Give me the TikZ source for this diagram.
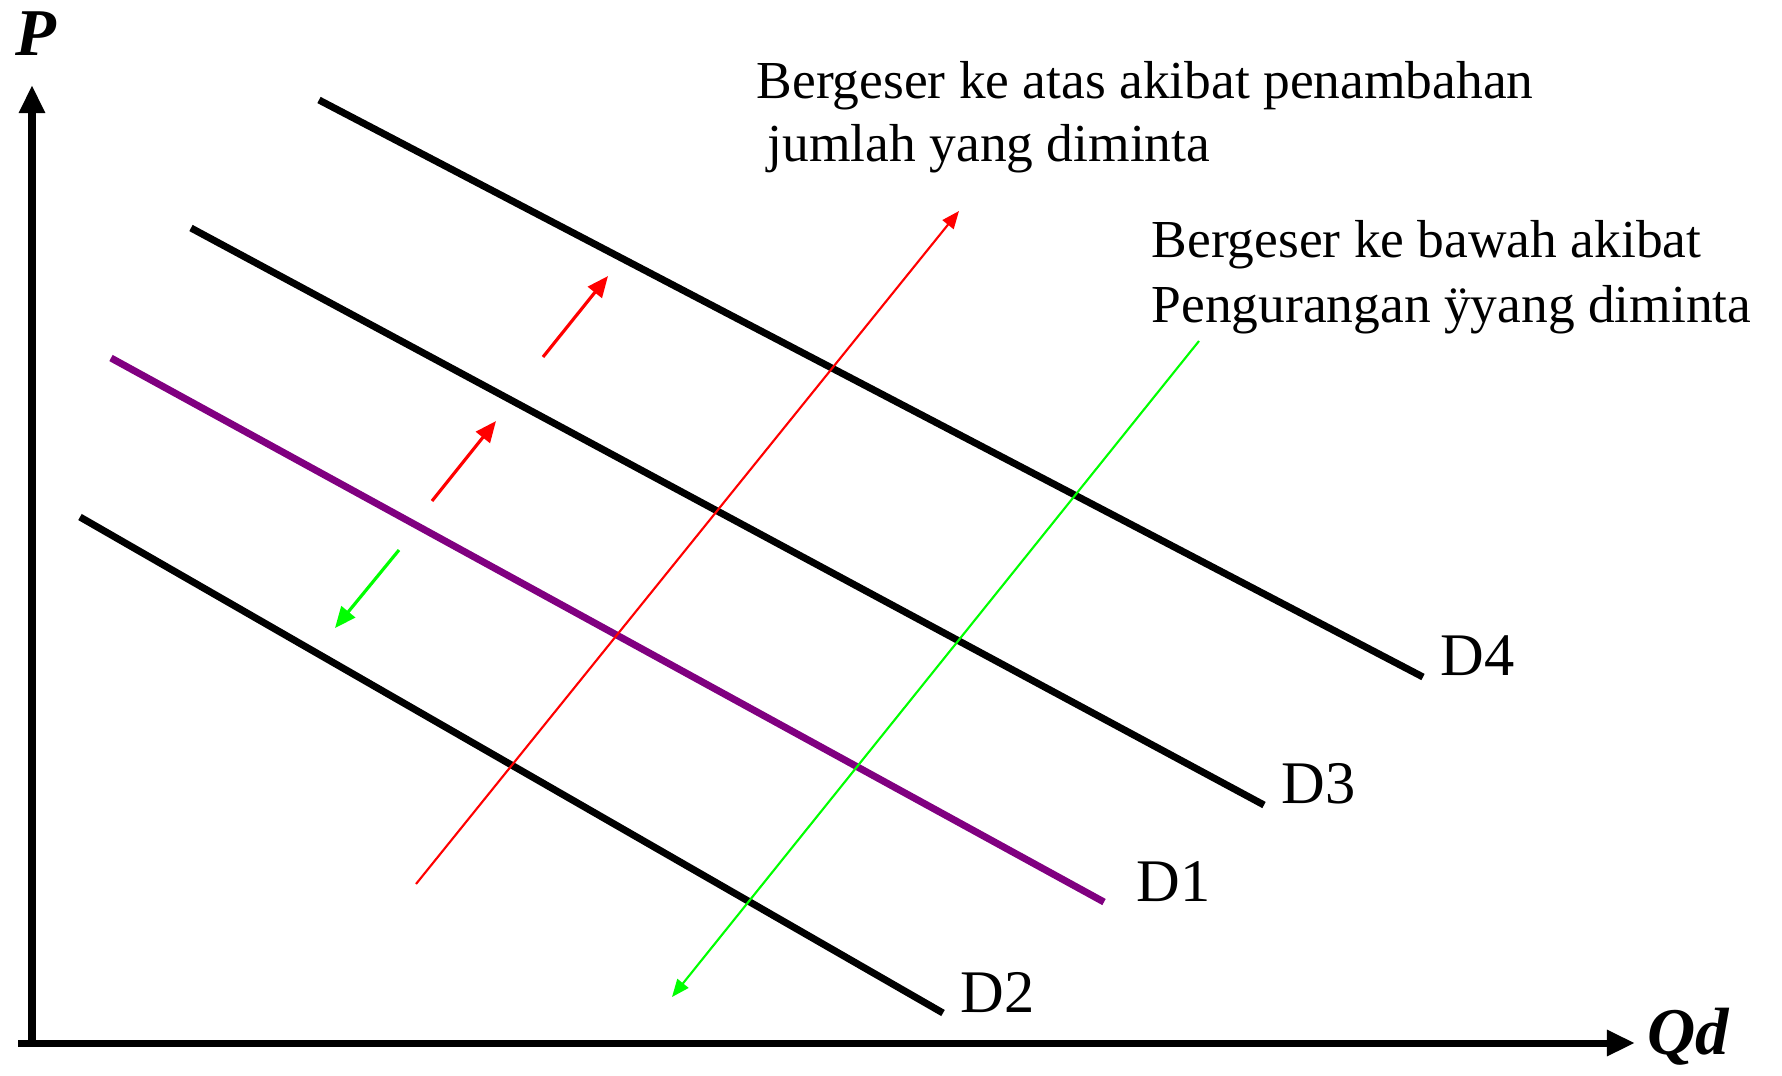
\documentclass[tikz,border=0pt]{standalone}
\usepackage{fontspec}
\setmainfont{Liberation Serif}
\usetikzlibrary{arrows.meta}
\definecolor{dpurple}{RGB}{128,0,128}
\definecolor{lgreen}{RGB}{0,255,0}
\begin{document}
\begin{tikzpicture}[x=0.01cm,y=-0.01cm,
  axis/.style={line width=2pt,-{Triangle[length=8pt,width=7pt]}},
  demand/.style={line width=2pt},
  shiftlong/.style={line width=0.6pt,-{Triangle[length=5pt,width=4pt]}},
  shiftshort/.style={line width=0.9pt,-{Triangle[length=6pt,width=5pt]}},
  lbl/.style={font=\fontsize{17.2}{20}\selectfont,anchor=base west,inner sep=0pt},
  txt/.style={font=\fontsize{15.2}{18}\selectfont,anchor=base west,inner sep=0pt},
  axlbl/.style={font=\fontsize{19}{22}\selectfont\bfseries\itshape,inner sep=0pt}]
\useasboundingbox (0,0) rectangle (1782,1075);
% axes
\coordinate (O) at (32,1043);
\coordinate (Ytip) at (32,85);
\coordinate (Xstart) at (18,1043);
\coordinate (Xtip) at (1635,1043);
\draw[axis] (O) -- (Ytip);
\draw[axis] (Xstart) -- (Xtip);
\node[axlbl] (P) at (36,34) {P};
\node[axlbl] (Qd) at (1688,1037) {Qd};
% demand curves
\coordinate (d4a) at (319,100); \coordinate (d4b) at (1423,677);
\coordinate (d3a) at (191,228); \coordinate (d3b) at (1264,805);
\coordinate (d1a) at (111,358); \coordinate (d1b) at (1104,902);
\coordinate (d2a) at (80,517);  \coordinate (d2b) at (943,1013);
\draw[demand] (d4a) -- (d4b);
\draw[demand] (d3a) -- (d3b);
\draw[demand,dpurple] (d1a) -- (d1b);
\draw[demand] (d2a) -- (d2b);
\node[lbl] (D4) at (1440,675) {D4};
\node[lbl] (D3) at (1281,803) {D3};
\node[lbl] (D1) at (1136,901) {D1};
\node[lbl] (D2) at (960,1012) {D2};
% shift arrows
\coordinate (r1) at (416,884); \coordinate (r2) at (959,211);
\draw[shiftlong,red] (r1) -- (r2);
\coordinate (g1) at (1199,341); \coordinate (g2) at (672,997);
\draw[shiftlong,lgreen] (g1) -- (g2);
\coordinate (sr1a) at (543,357); \coordinate (sr1b) at (608,276);
\draw[shiftshort,red] (sr1a) -- (sr1b);
\coordinate (sr2a) at (432,501); \coordinate (sr2b) at (496,421);
\draw[shiftshort,red] (sr2a) -- (sr2b);
\coordinate (sg1a) at (399,550); \coordinate (sg1b) at (335,628);
\draw[shiftshort,lgreen] (sg1a) -- (sg1b);
% texts
\node[txt] (t1) at (756,98) {Bergeser ke atas akibat penambahan};
\node[txt] (t2) at (767,161) {jumlah yang diminta};
\node[txt] (t3) at (1151,257) {Bergeser ke bawah akibat};
\node[txt] (t4) at (1151,322) {Pengurangan ÿyang diminta};
\end{tikzpicture}
\end{document}
